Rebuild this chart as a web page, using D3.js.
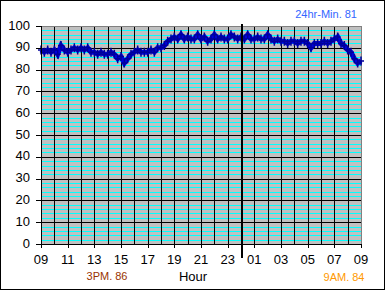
<!DOCTYPE html>
<html>
<head>
<meta charset="utf-8">
<script src="https://d3js.org/d3.v7.min.js"></script>
<style>
body { margin: 0; background: #fff; }
text { font-family: "Liberation Sans", Arial, sans-serif; }
</style>
</head>
<body>
<script type="text/javascript">

/* readings every 15 minutes, 09:00 to 09:00 next day */
var temps = [
  89, 88, 89, 88,   // 09
  89, 87, 91, 89,   // 10
  88, 89, 90, 89,   // 11
  90, 89, 90, 88,   // 12
  88, 87, 88, 87,   // 13
  87, 88, 87, 85,   // 14
  86, 83, 85, 87,   // 15
  88, 89, 88, 88,   // 16
  88, 89, 88, 90,   // 17
  90, 91, 93, 94,   // 18
  95, 94, 96, 94,   // 19
  95, 94, 94, 96,   // 20
  94, 95, 93, 94,   // 21
  96, 94, 95, 94,   // 22
  94, 96, 95, 94,   // 23
  95, 94, 96, 94,   // 00
  94, 95, 94, 94,   // 01
  96, 94, 93, 94,   // 02
  93, 93, 92, 93,   // 03
  93, 92, 93, 93,   // 04
  92, 90, 92, 92,   // 05
  92, 93, 92, 93,   // 06
  94, 95, 92, 91,   // 07
  89, 88, 85, 83,   // 08
  84                // 09
];
var hourLabels = ["09","11","13","15","17","19","21","23","01","03","05","07","09"];
var yTicks = [0,10,20,30,40,50,60,70,80,90,100];
var notes = { min: "24hr-Min. 81", at3pm: "3PM. 86", at9am: "9AM. 84" };

function drawChart() {
  var W = 385, H = 290;
  var pL = 41, pR = 361, pT = 26, pB = 244;

  var svg = d3.select("body").append("svg")
    .attr("width", W).attr("height", H);

  var x = d3.scaleLinear().domain([0, 24]).range([pL, pR]);
  var y = d3.scaleLinear().domain([0, 100]).range([pB, pT]);

  /* plot area */
  svg.append("rect")
    .attr("x", pL).attr("y", pT)
    .attr("width", pR - pL).attr("height", pB - pT)
    .attr("fill", "#c0c0c0");

  /* minor gridlines every 2 */
  svg.append("g").selectAll("line")
    .data(d3.range(2, 100, 2).filter(function(v){ return v % 10 !== 0; }))
    .enter().append("line")
    .attr("x1", pL).attr("x2", pR)
    .attr("y1", function(d){ return Math.round(y(d)) + 0.5; })
    .attr("y2", function(d){ return Math.round(y(d)) + 0.5; })
    .attr("stroke", "#00ffff").attr("stroke-width", 1);

  /* major gridlines */
  svg.append("g").selectAll("line")
    .data(yTicks.slice(1, -1))
    .enter().append("line")
    .attr("x1", pL).attr("x2", pR)
    .attr("y1", function(d){ return Math.round(y(d)) + 0.5; })
    .attr("y2", function(d){ return Math.round(y(d)) + 0.5; })
    .attr("stroke", "#000").attr("stroke-width", 1);

  svg.append("g").selectAll("line")
    .data(d3.range(1, 24))
    .enter().append("line")
    .attr("x1", function(d){ return Math.round(x(d)) + 0.5; })
    .attr("x2", function(d){ return Math.round(x(d)) + 0.5; })
    .attr("y1", pT).attr("y2", pB)
    .attr("stroke", "#000").attr("stroke-width", 1);

  /* plot border */
  svg.append("rect")
    .attr("x", pL + 0.5).attr("y", pT + 0.5)
    .attr("width", pR - pL).attr("height", pB - pT)
    .attr("fill", "none").attr("stroke", "#808080");

  /* data */
  var line = d3.line()
    .x(function(d, i){ return x(i * 0.25); })
    .y(function(d){ return y(d); });

  svg.append("path")
    .datum(temps)
    .attr("d", line)
    .attr("fill", "none")
    .attr("stroke", "#0000dd")
    .attr("stroke-width", 5);

  var marks = svg.append("g").selectAll("g")
    .data(temps).enter().append("g")
    .attr("transform", function(d, i){ return "translate(" + x(i * 0.25) + "," + y(d) + ")"; });

  marks.append("path")
    .attr("d", "M-3,0H3M0,-4.5V4.5")
    .attr("stroke", "#000099")
    .attr("stroke-width", 1.5);

  /* axes */
  svg.append("line")
    .attr("x1", pL + 0.5).attr("x2", pL + 0.5)
    .attr("y1", pT).attr("y2", pB + 4)
    .attr("stroke", "#000");
  svg.append("line")
    .attr("x1", pL - 5).attr("x2", pR)
    .attr("y1", pB + 0.5).attr("y2", pB + 0.5)
    .attr("stroke", "#000");

  svg.append("g").selectAll("line")
    .data(yTicks).enter().append("line")
    .attr("x1", pL - 5).attr("x2", pL)
    .attr("y1", function(d){ return Math.round(y(d)) + 0.5; })
    .attr("y2", function(d){ return Math.round(y(d)) + 0.5; })
    .attr("stroke", "#000");

  svg.append("g").selectAll("text")
    .data(yTicks).enter().append("text")
    .attr("x", 30)
    .attr("y", function(d){ return y(d) - 1; })
    .attr("dy", "0.35em")
    .attr("text-anchor", "end")
    .attr("font-size", 13)
    .text(function(d){ return d; });

  svg.append("g").selectAll("line")
    .data(hourLabels).enter().append("line")
    .attr("x1", function(d, i){ return Math.round(x(i * 2)) + 0.5; })
    .attr("x2", function(d, i){ return Math.round(x(i * 2)) + 0.5; })
    .attr("y1", pB).attr("y2", pB + 4)
    .attr("stroke", "#000");

  svg.append("g").selectAll("text")
    .data(hourLabels).enter().append("text")
    .attr("x", function(d, i){ return x(i * 2); })
    .attr("y", 264)
    .attr("text-anchor", "middle")
    .attr("font-size", 13)
    .text(function(d){ return d; });

  /* midnight marker */
  svg.append("line")
    .attr("x1", x(15) + 1).attr("x2", x(15) + 1)
    .attr("y1", 24).attr("y2", 258)
    .attr("stroke", "#000").attr("stroke-width", 2);

  /* titles / notes */
  svg.append("text")
    .attr("x", 193).attr("y", 281)
    .attr("text-anchor", "middle")
    .attr("font-size", 13)
    .text("Hour");

  svg.append("text")
    .attr("x", 357).attr("y", 18)
    .attr("text-anchor", "end")
    .attr("font-size", 11)
    .attr("fill", "#3366ff")
    .text(notes.min);

  svg.append("text")
    .attr("x", 107).attr("y", 280)
    .attr("text-anchor", "middle")
    .attr("font-size", 11)
    .attr("fill", "#993300")
    .text(notes.at3pm);

  svg.append("text")
    .attr("x", 344).attr("y", 281)
    .attr("text-anchor", "middle")
    .attr("font-size", 11)
    .attr("fill", "#ff9900")
    .text(notes.at9am);

  /* chart frame */
  svg.append("rect")
    .attr("x", 0.5).attr("y", 0.5)
    .attr("width", W - 1).attr("height", H - 1)
    .attr("fill", "none").attr("stroke", "#000");
}

drawChart();

</script>
</body>
</html>
